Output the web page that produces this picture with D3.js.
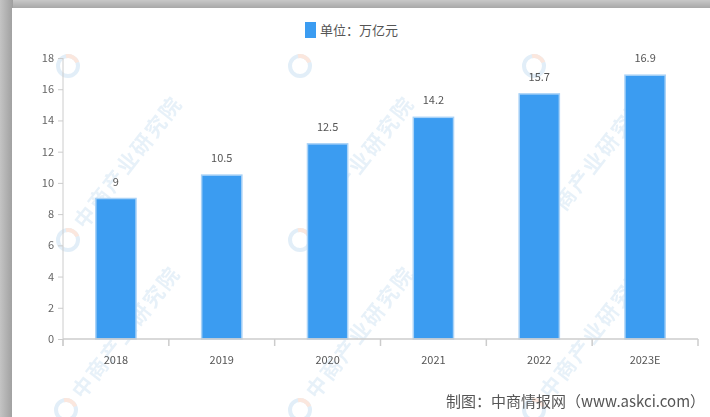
<!DOCTYPE html>
<html>
<head>
<meta charset="utf-8">
<script src="https://cdn.jsdelivr.net/npm/d3@7/dist/d3.min.js"></script>
<style>
  html, body { margin: 0; padding: 0; background: #bdbdbd; }
  svg { display: block; }
</style>
</head>
<body>
<svg id="chart" width="710" height="417"></svg>
<script>
// Market size by year (unit: 万亿元)
const years = ["2018", "2019", "2020", "2021", "2022", "2023E"];
const values = [9, 10.5, 12.5, 14.2, 15.7, 16.9];
const valueLabels = ["9", "10.5", "12.5", "14.2", "15.7", "16.9"];
const yTicks = [0, 2, 4, 6, 8, 10, 12, 14, 16, 18];
const legendText = "单位：万亿元";
const sourceText = "制图：中商情报网（www.askci.com）";
const watermarkText = "中商产业研究院";

const svg = d3.select("#chart");
const W = 710, H = 417;
const font = "'Noto Sans CJK SC', 'Noto Sans', sans-serif";
const blue = "#3b9cf1";

// panel with a soft grey frame on the top and left
const defs = svg.append("defs");
const grad = defs.append("linearGradient").attr("id", "frameL").attr("x1", 0).attr("x2", 1);
grad.append("stop").attr("offset", 0).attr("stop-color", "#c4c4c4");
grad.append("stop").attr("offset", 1).attr("stop-color", "#9e9e9e");
const gradT = defs.append("linearGradient").attr("id", "frameT").attr("x1", 0).attr("x2", 0).attr("y1", 0).attr("y2", 1);
gradT.append("stop").attr("offset", 0).attr("stop-color", "#c8c8c8");
gradT.append("stop").attr("offset", 1).attr("stop-color", "#a4a4a4");
svg.append("rect").attr("width", W).attr("height", H).attr("fill", "#c2c2c2");
svg.append("rect").attr("x", 0).attr("y", 0).attr("width", W).attr("height", 9).attr("fill", "url(#frameT)");
svg.append("rect").attr("x", 0).attr("y", 0).attr("width", 13).attr("height", H).attr("fill", "url(#frameL)");
svg.append("rect").attr("x", 12).attr("y", 8).attr("width", W - 12).attr("height", H - 8).attr("fill", "#ffffff");

const clip = defs.append("clipPath").attr("id", "panel");
clip.append("rect").attr("x", 12).attr("y", 8).attr("width", W - 12).attr("height", H - 8);

const panel = svg.append("g").attr("clip-path", "url(#panel)");

// background watermarks: logo rings everywhere, brand text rising from the lower rows
const wmSpots = [[68, 66, false], [300, 66, false], [534, 66, false],
                 [68, 240, true], [300, 240, true], [534, 240, true],
                 [66, 410, true], [300, 410, true], [534, 410, true]];
const wm = panel.append("g").attr("opacity", 0.42);
wmSpots.forEach(([x, y, withText]) => {
  const g = wm.append("g").attr("transform", `translate(${x},${y})`);
  g.append("circle").attr("r", 10).attr("fill", "none").attr("stroke", "#b9d7ee").attr("stroke-width", 4);
  g.append("path").attr("d", d3.arc()({innerRadius: 8, outerRadius: 12, startAngle: -0.2, endAngle: 1.2}))
    .attr("fill", "#f6c7b0");
  if (withText) {
    g.append("text").attr("transform", "rotate(-52) translate(18,7)")
      .attr("font-family", font).attr("font-size", 21).attr("font-weight", "bold")
      .attr("letter-spacing", 2)
      .attr("fill", "#c7def0").text(watermarkText);
  }
});

const x = d3.scaleBand().domain(years).range([63, 698]).paddingInner(0.62).paddingOuter(0.31);
const y = d3.scaleLinear().domain([0, 18]).range([339, 58]);

// bars
panel.append("g").selectAll("rect").data(values).join("rect")
  .attr("x", (d, i) => x(years[i]))
  .attr("y", d => y(d))
  .attr("width", x.bandwidth())
  .attr("height", d => y(0) - y(d))
  .attr("fill", blue)
  .attr("stroke", "#a9d2f7")
  .attr("stroke-width", 1.5);

// value labels
panel.append("g").selectAll("text").data(values).join("text")
  .attr("x", (d, i) => x(years[i]) + x.bandwidth() / 2)
  .attr("y", d => y(d) - 13)
  .attr("text-anchor", "middle")
  .attr("font-family", font).attr("font-size", 11).attr("fill", "#555")
  .text((d, i) => valueLabels[i]);

// y axis
const yAxis = panel.append("g").attr("transform", "translate(63,0)")
  .call(d3.axisLeft(y).tickValues(yTicks).tickSize(5).tickPadding(4));
yAxis.select(".domain").attr("stroke", "#cccccc").attr("d", "M0,58V346");
yAxis.selectAll(".tick line").attr("stroke", "#cccccc");
yAxis.selectAll("text").attr("font-family", font).attr("font-size", 11).attr("fill", "#666");

// x axis
const xAxis = panel.append("g").attr("transform", "translate(0,339)")
  .call(d3.axisBottom(x).tickSize(0).tickPadding(17));
xAxis.select(".domain").attr("stroke", "#cccccc").attr("stroke-width", 1.5).attr("d", "M63,0H698");
xAxis.selectAll("text").attr("font-family", font).attr("font-size", 11).attr("fill", "#555");
// band boundary ticks
const bounds = d3.range(years.length + 1).map(i => 63 + i * (635 / years.length));
panel.append("g").selectAll("line").data(bounds).join("line")
  .attr("x1", d => d).attr("x2", d => d)
  .attr("y1", 339).attr("y2", 346)
  .attr("stroke", "#cccccc").attr("stroke-width", 1.5);

// legend
const lg = panel.append("g").attr("transform", "translate(305,22)");
lg.append("rect").attr("width", 11).attr("height", 16).attr("fill", blue);
lg.append("text").attr("x", 15).attr("y", 13)
  .attr("font-family", font).attr("font-size", 13).attr("fill", "#555")
  .text(legendText);

// source note in the bottom-right corner
panel.append("text").attr("x", 446).attr("y", 407)
  .attr("font-family", font).attr("font-size", 15).attr("fill", "#555")
  .text(sourceText);
</script>
</body>
</html>
